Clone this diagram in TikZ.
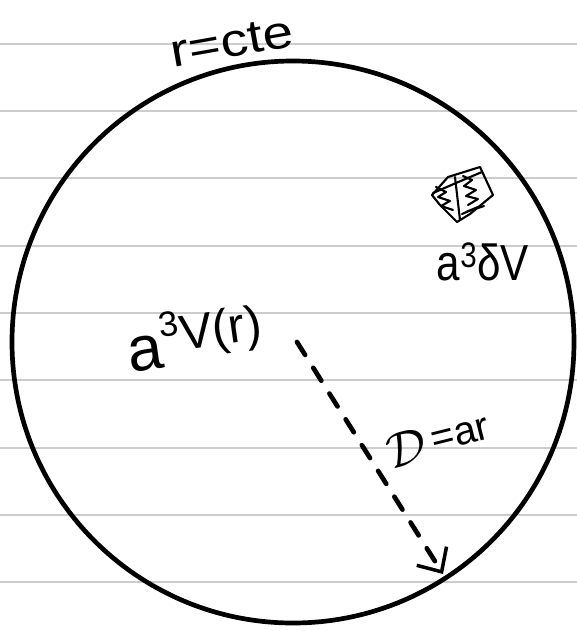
\documentclass[tikz,border=0pt]{standalone}
\usepackage{fontspec}
\setmainfont{Liberation Sans}
\usetikzlibrary{arrows.meta}
\begin{document}
\begin{tikzpicture}[x=0.03cm,y=-0.03cm,
  ruled/.style={draw=black!20,line width=1.6pt},
  ink/.style={draw=black,line width=4pt},
  hand/.style={inner sep=0pt,text=black},
  sketch/.style={draw=black,line width=1.8pt,line join=round,line cap=round}]
\useasboundingbox (0,0) rectangle (577,631);
\fill[white] (0,0) rectangle (577,631);
% ruled paper lines
\foreach \yy in {44,111,178,246,313,380,448,515,582}
  \draw[ruled] (0,\yy) -- (577,\yy);
% the sphere
\node[ink,circle,minimum size=562*0.03cm,inner sep=0pt] (sphere) at (293,342) {};
% labels
\node[hand,rotate=10,xscale=1.3,yscale=1.1,font=\fontsize{36}{40}\selectfont] (rcte) at (232,42) {r=cte};
\node[hand,yscale=1.2,font=\fontsize{36}{40}\selectfont] (dV) at (483,262) {a\textsuperscript{3}δV};
\node[hand,rotate=8,font=\fontsize{42}{46}\selectfont] (Vr) at (194,336)
  {{\fontsize{54}{58}\selectfont a}\raisebox{0.62em}{\fontsize{30}{32}\selectfont 3}\raisebox{0.3em}{V(r)}};
\node[hand,rotate=14,font=\fontsize{34}{38}\selectfont] (Dar) at (438,440) {\raisebox{-0.15em}{\scalebox{1.7}{$\mathcal{D}$}}\,=ar};
% small volume element (sketched cube)
\coordinate (cube) at (460,198);
\draw[sketch] (432,195) -- (448,177) -- (480,167) -- (493,195) -- (470,214) -- (457,222) -- (440,205) -- cycle;
\draw[sketch] (455,177) -- (460,220);
\draw[sketch] (436,187) -- (446,192) -- (438,197) -- (450,201) -- (441,206) -- (453,210);
\draw[sketch] (463,176) -- (472,180) -- (464,186) -- (476,190) -- (466,196) -- (478,199) -- (468,205);
\draw[sketch] (462,214) -- (478,207) -- (466,212) -- (484,206);
\draw[sketch] (433,193) -- (456,183) -- (482,172);
% radius arrow
\coordinate (ctr) at (297,342);
\coordinate (edge) at (443,574);
\draw[black,line width=4pt,dash pattern=on 13pt off 13pt,line cap=round,
  -{Straight Barb[length=16pt,width=30pt,line width=3pt]}] (ctr) -- (edge);
\end{tikzpicture}
\end{document}
